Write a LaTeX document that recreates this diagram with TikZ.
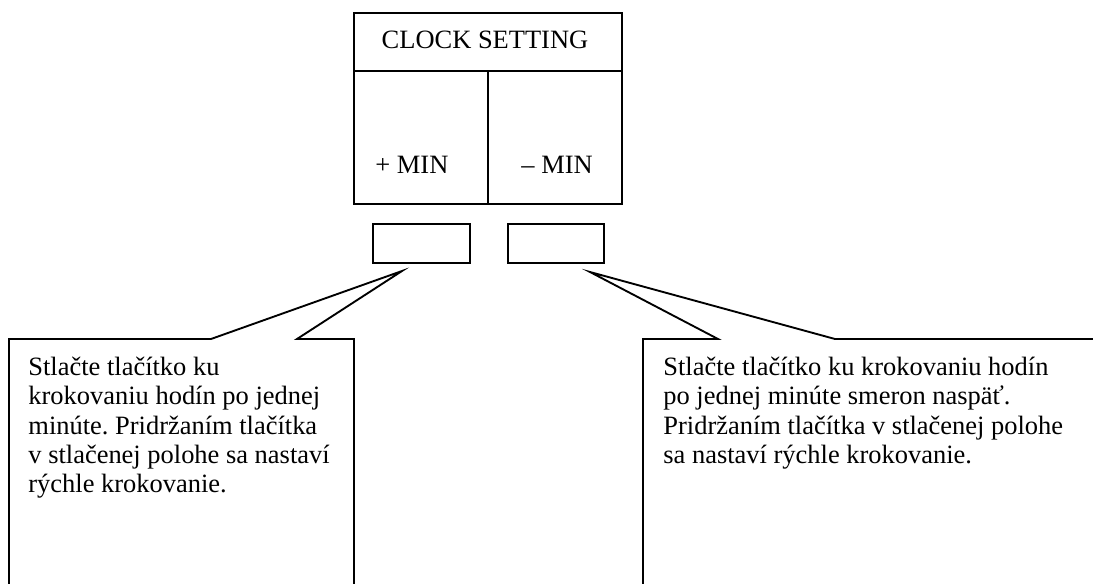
\documentclass[tikz,border=0pt]{standalone}
\usepackage{fontspec}
\setmainfont{Liberation Serif}
\usetikzlibrary{positioning}
\frenchspacing
\tikzset{
  panel/.style={draw, line width=0.9pt, inner sep=0pt, outer sep=0pt, minimum width=128.6pt, minimum height=27.8pt},
  cell/.style={draw, line width=0.9pt, inner sep=0pt, outer sep=0pt, minimum width=64.3pt, minimum height=63.8pt},
  btn/.style={draw, line width=0.9pt, inner sep=0pt, outer sep=0pt, minimum width=46.4pt, minimum height=18.7pt},
  callout/.style={draw, line width=0.9pt, line join=miter},
  lbl/.style={anchor=base west, inner sep=0pt, font=\fontsize{12.7}{14}\selectfont},
  note/.style={anchor=north west, align=left, inner sep=0pt, font=\fontsize{12.7}{14}\selectfont}
}
\begin{document}
\begin{tikzpicture}[x=0.48pt, y=-0.48pt]
            \useasboundingbox (0,0) rectangle (1093,584);

            \node[panel] (hdr) at (488,42) {};
            \node[lbl, anchor=base] (hdrlbl) at (485,49) {CLOCK SETTING};
            \node[cell, anchor=north west] (pluscell) at (hdr.south west) {};
            \node[cell, anchor=north east] (minuscell) at (hdr.south east) {};
            \node[lbl] (pluslbl) at (375,173) {+ MIN};
            \node[lbl] (minuslbl) at (521,173) {– MIN};

            \node[btn] (btnplus) at (421.5,243.5) {};
            \node[btn] (btnminus) at (556,243.5) {};

            \coordinate (tipplus) at (402,271);
            \coordinate (tipminus) at (590,272);

            \draw[callout] (9,584) -- (9,339) -- (211,339) -- (tipplus) -- (297,339) -- (354,339) -- (354,584);
            \draw[callout] (643,584) -- (643,339) -- (718,339) -- (tipminus) -- (835,339) -- (1093,339);

            \node[note] (noteplus) at (28,357) {Stlačte tlačítko ku\\krokovaniu hodín po jednej\\minúte. Pridržaním tlačítka\\v stlačenej polohe sa nastaví\\rýchle krokovanie.};
            \node[note] (noteminus) at (663,357) {Stlačte tlačítko ku krokovaniu hodín\\po jednej minúte smeron naspäť.\\Pridržaním tlačítka v stlačenej polohe\\sa nastaví rýchle krokovanie.};
        \end{tikzpicture}
\end{document}
